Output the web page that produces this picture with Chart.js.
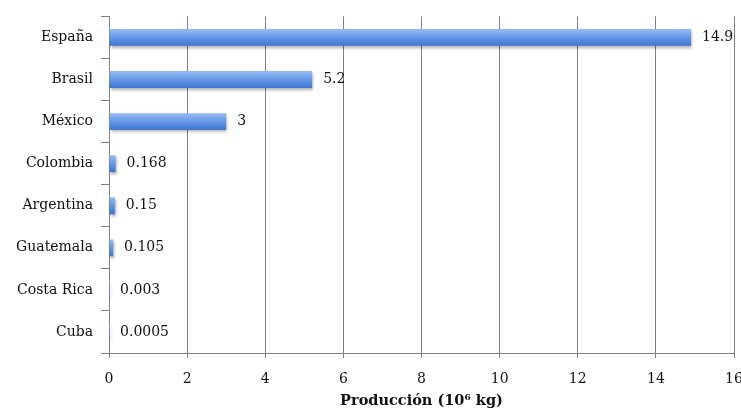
<!DOCTYPE html>
<html>
<head>
<meta charset="utf-8">
<script src="https://cdn.jsdelivr.net/npm/chart.js@4.4.0/dist/chart.umd.min.js"></script>
<style>
html, body { margin: 0; padding: 0; background: #fff; }
#wrap { width: 741px; height: 413px; }
</style>
</head>
<body>
<div id="wrap"><canvas id="grafico"></canvas></div>
<script>
var paises = ["España", "Brasil", "México", "Colombia", "Argentina", "Guatemala", "Costa Rica", "Cuba"];
var produccion = [14.9, 5.2, 3, 0.168, 0.15, 0.105, 0.003, 0.0005];
var tituloX = "Producción (10\u2076 kg)";

var fuente = '"DejaVu Serif", "Liberation Serif", serif';

// degradado vertical en cada barra + sombra
var estiloBarras = {
    id: 'estiloBarras',
    beforeDatasetDraw: function(chart) {
        var ctx = chart.ctx;
        chart.getDatasetMeta(0).data.forEach(function(bar) {
            var y0 = bar.y - bar.height / 2, y1 = bar.y + bar.height / 2;
            var g = ctx.createLinearGradient(0, y0, 0, y1);
            g.addColorStop(0, '#98bbf3');
            g.addColorStop(0.45, '#6a9be8');
            g.addColorStop(1, '#3c75d3');
            // las opciones son compartidas: copia propia para cada barra
            bar.options = Object.assign({}, bar.options, { backgroundColor: g });
        });
        ctx.save();
        ctx.shadowColor = 'rgba(0,0,0,0.35)';
        ctx.shadowBlur = 3;
        ctx.shadowOffsetX = 1;
        ctx.shadowOffsetY = 2;
    },
    afterDatasetDraw: function(chart) {
        chart.ctx.restore();
    }
};

var etiquetas = {
    id: 'etiquetas',
    afterDatasetsDraw: function(chart) {
        var ctx = chart.ctx;
        ctx.save();
        ctx.font = '14px ' + fuente;
        ctx.fillStyle = '#111';
        ctx.textBaseline = 'middle';
        ctx.textAlign = 'left';
        chart.getDatasetMeta(0).data.forEach(function(bar, i) {
            ctx.fillText(String(produccion[i]), bar.x + 11, bar.y);
        });
        ctx.restore();
    }
};

var ctx = document.getElementById('grafico').getContext('2d');
var grafico = new Chart(ctx, {
    type: 'bar',
    data: {
        labels: paises,
        datasets: [{
            data: produccion,
            backgroundColor: '#6a9be8',
            borderWidth: 0,
            barPercentage: 0.4,
            categoryPercentage: 1
        }]
    },
    options: {
        indexAxis: 'y',
        responsive: true,
        maintainAspectRatio: false,
        animation: false,
        layout: { padding: { top: 14, right: 0, bottom: 3, left: 0 } },
        plugins: {
            legend: { display: false },
            tooltip: { enabled: false }
        },
        scales: {
            x: {
                min: 0,
                max: 16,
                ticks: { stepSize: 2, color: '#111', padding: 13, font: { family: fuente, size: 14 } },
                grid: { color: '#808080', tickLength: 5 },
                border: { color: '#808080' },
                title: {
                    display: true,
                    text: tituloX,
                    color: '#111',
                    font: { family: fuente, size: 14.5, weight: 'bold' },
                    padding: { top: 0, bottom: 0 }
                },
                afterFit: function(s) { s.height = 57; s.paddingRight = 7; }
            },
            y: {
                ticks: { color: '#111', padding: 8, font: { family: fuente, size: 14 } },
                grid: { drawOnChartArea: false, color: '#808080', tickLength: 8, offset: true },
                border: { color: '#808080' },
                afterFit: function(s) { s.width = 109; }
            }
        }
    },
    plugins: [estiloBarras, etiquetas]
});
</script>
</body>
</html>
